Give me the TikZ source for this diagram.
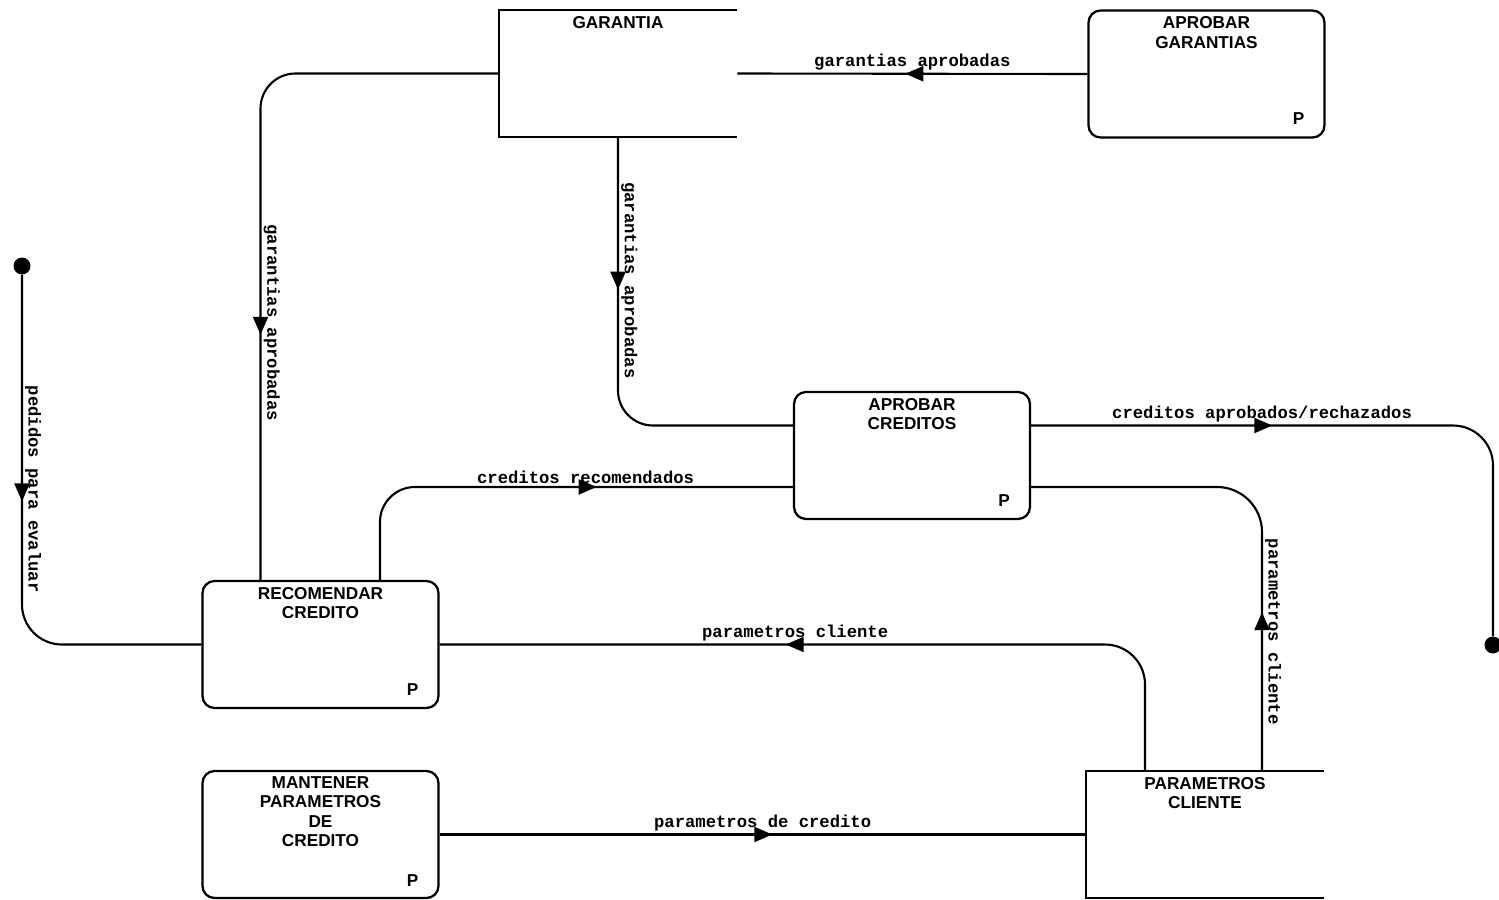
\documentclass[tikz,border=0pt]{standalone}
\usepackage{fontspec}
\setmainfont{Liberation Sans}
\setmonofont{Liberation Mono}
\usetikzlibrary{arrows.meta,decorations.markings,positioning}
\tikzset{
  proc/.style={draw, rounded corners=0.24cm, line width=1.3pt, minimum width=4.72cm, minimum height=2.54cm, inner sep=0pt},
  store/.style={minimum width=4.76cm, minimum height=2.54cm, inner sep=0pt},
  storeline/.style={line width=1.3pt},
  ttl/.style={font=\fontsize{9.8}{11.1}\selectfont\bfseries, align=center, inner sep=0pt},
  pmark/.style={font=\fontsize{9.8}{11}\selectfont\bfseries, inner sep=0pt},
  dot/.style={circle, fill, inner sep=0pt, minimum size=0.34cm},
  flow/.style={line width=1.2pt, rounded corners=0.7cm},
  lbl/.style={font=\fontsize{9.8}{11}\selectfont\ttfamily\bfseries, inner sep=1.2pt},
  flowmark/.style={postaction={decorate,decoration={markings,mark=at position #1 with {\arrow{Triangle[length=0.36cm,width=0.3cm]}}}}},
}
\begin{document}
\begin{tikzpicture}[x=0.02cm,y=-0.02cm]
\useasboundingbox (0,0) rectangle (1499,900);
\node[store] (gar) at (618,73.5) {};
\draw[storeline] (gar.north east) -- (gar.north west) -- (gar.south west) -- (gar.south east);
\node[ttl, below=0.12cm of gar.north] (garT) {GARANTIA};
\node[store] (pcl) at (1205,834.5) {};
\draw[storeline] (pcl.north east) -- (pcl.north west) -- (pcl.south west) -- (pcl.south east);
\node[ttl, below=0.12cm of pcl.north] (pclT) {PARAMETROS\\CLIENTE};
\node[proc] (apg) at (1206.5,74) {};
\node[ttl, below=0.14cm of apg.north] (apgT) {APROBAR\\GARANTIAS};
\node[pmark] (apgP) at ([shift={(-27,-20)}]apg.south east) {P};
\node[proc] (apc) at (912,455.5) {};
\node[ttl, below=0.14cm of apc.north] (apcT) {APROBAR\\CREDITOS};
\node[pmark] (apcP) at ([shift={(-27,-20)}]apc.south east) {P};
\node[proc] (rec) at (320.5,644.5) {};
\node[ttl, below=0.14cm of rec.north] (recT) {RECOMENDAR\\CREDITO};
\node[pmark] (recP) at ([shift={(-27,-20)}]rec.south east) {P};
\node[proc] (man) at (320.5,834.5) {};
\node[ttl, below=0.12cm of man.north] (manT) {MANTENER\\PARAMETROS\\DE\\CREDITO};
\node[pmark] (manP) at ([shift={(-27,-19)}]man.south east) {P};
\node[dot] (src) at (22,266) {};
\node[dot] (snk) at (1493,645) {};
\draw[flow, flowmark=0.52] (apg.west) -- (gar.east) node[lbl, midway, above] (l1) {garantias aprobadas};
\draw[flow, flowmark=0.664] (gar.west) -| ([xshift=-1.2cm]rec.north) node[lbl, pos=0.746, rotate=-90, anchor=south] (l2) {garantias aprobadas};
\draw[flow, flowmark=0.34] (gar.south) |- ([yshift=0.6cm]apc.west) node[lbl, pos=0.248, rotate=-90, anchor=south] (l3) {garantias aprobadas};
\draw[flow, flowmark=0.60] ([xshift=1.19cm]rec.north) |- ([yshift=-0.63cm]apc.west) node[lbl, pos=0.749, above] (l4) {creditos recomendados};
\draw[flow, rounded corners=0.8cm, flowmark=0.368] ([yshift=0.6cm]apc.east) -| (snk) node[lbl, pos=0.25, above] (l5) {creditos aprobados/rechazados};
\draw[flow, rounded corners=0.9cm, flowmark=0.32] ([xshift=1.14cm]pcl.north) |- ([yshift=-0.63cm]apc.east) node[lbl, pos=0.245, rotate=-90, anchor=south] (l6) {parametros cliente};
\draw[flow, rounded corners=0.8cm, flowmark=0.575] ([xshift=-1.2cm]pcl.north) |- (rec.east) node[lbl, pos=0.748, above] (l7) {parametros cliente};
\draw[flow, rounded corners=0.8cm, flowmark=0.426] (src) |- (rec.west) node[lbl, pos=0.29, rotate=-90, anchor=south] (l8) {pedidos para evaluar};
\draw[flow, flowmark=0.515] (man.east) -- (pcl.west) node[lbl, midway, above] (l9) {parametros de credito};
\end{tikzpicture}
\end{document}
